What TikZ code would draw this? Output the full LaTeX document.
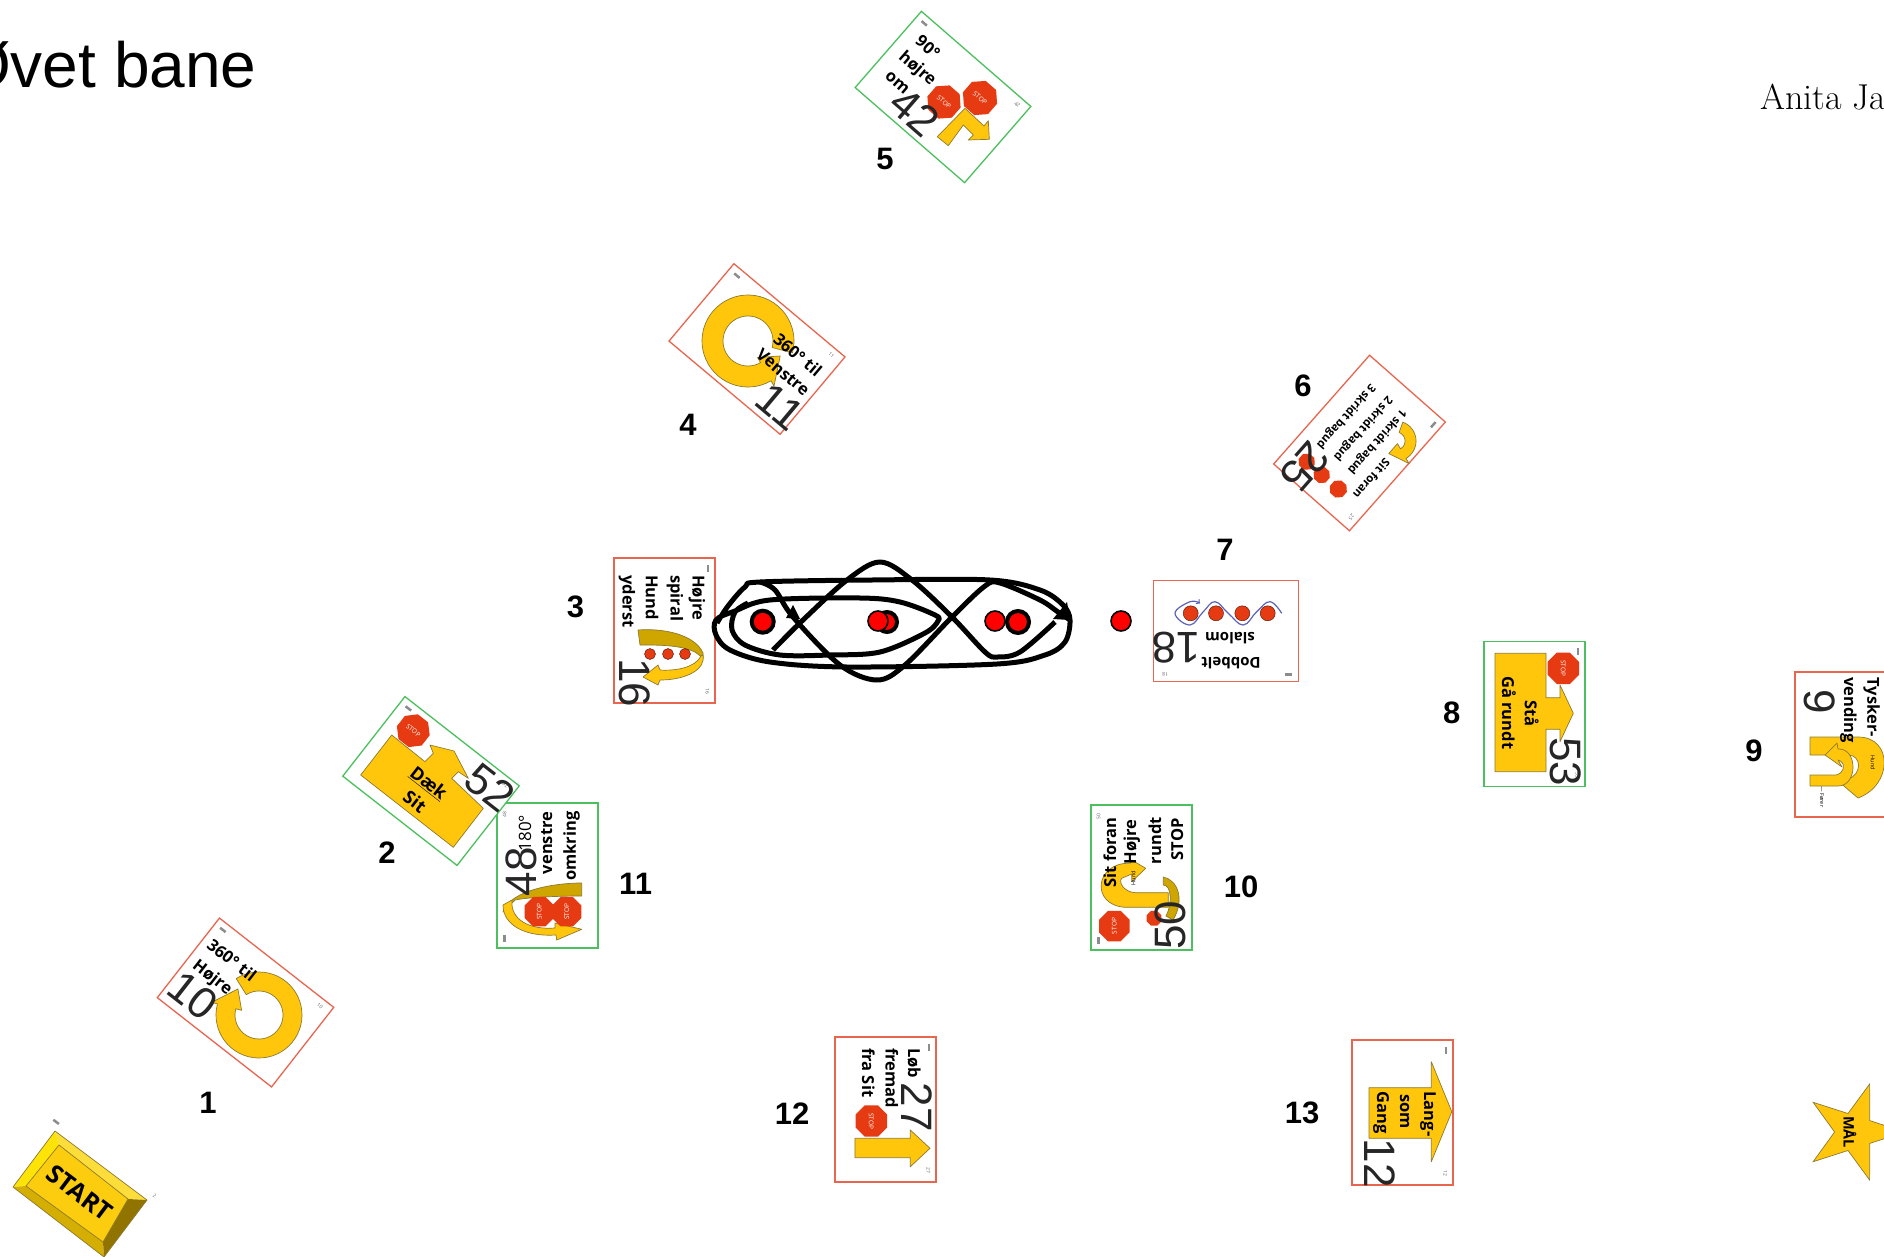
\documentclass[tikz,border=0pt]{standalone}
\usepackage{fontspec}
\usetikzlibrary{shapes.geometric}
\newfontfamily\arialfont{Liberation Sans}
\newfontfamily\cardfont{Open Sans}
\definecolor{cardred}{HTML}{E8664F}
\definecolor{cardgreen}{HTML}{4CBF5E}
\definecolor{signyellow}{HTML}{FFC60B}
\definecolor{signdark}{HTML}{CFA500}
\definecolor{signedge}{HTML}{8C7A30}
\definecolor{stopred}{HTML}{E63A12}
\definecolor{waveblue}{HTML}{5B62B8}
\tikzset{
  ralcard/.style={draw, line width=1.3pt, fill=white, minimum width=145pt, minimum height=101pt, inner sep=0pt},
  cardtxt/.style={font={\cardfont\bfseries\fontsize{16.5}{18}\selectfont}, inner sep=0pt},
  smalltxt/.style={font={\cardfont\bfseries\fontsize{15}{17}\selectfont}, inner sep=0pt},
  bignum/.style={font={\arialfont\fontsize{44}{44}\selectfont}, text=black!85, inner sep=0pt},
  lbl/.style={font={\arialfont\bfseries\fontsize{31}{31}\selectfont}, inner sep=0pt},
  tinynum/.style={font={\cardfont\fontsize{5}{5}\selectfont}, text=black!60, inner sep=0pt, transform shape},
  tinytxt/.style={font={\cardfont\fontsize{5.5}{6}\selectfont}, inner sep=0pt},
  stopsign/.style={regular polygon, regular polygon sides=8, fill=stopred, text=white, inner sep=0pt, font={\cardfont\fontsize{6.5}{7}\selectfont}},
  icon/.style={draw=signedge, line width=.7pt, fill=signyellow, line join=round},
  band/.style={draw=signedge, line width=.7pt, fill=signdark, line join=round},
  reddot/.style={circle, fill=stopred, draw=black!70!stopred, line width=.4pt, minimum size=15pt, inner sep=0pt},
  trackline/.style={draw=black, line width=5pt, line join=round},
  bluedot/.style={circle, fill=red, draw=black, line width=1.6pt, minimum size=20pt, inner sep=0pt},
  bluedotheavy/.style={circle, fill=red, draw=black, line width=4pt, minimum size=22pt, inner sep=0pt}
}
% card with its small corner marks
\newcommand{\sign}[6]{
  \node[ralcard, draw=#5, rotate=#4] (#1) at (#2,#3) {};
  \begin{scope}[shift={(#2,#3)}, rotate=#4]
    \fill[black!45] (-66,-44.5) rectangle (-59,-42);
    \node[tinynum] (#1num) at (61,-43) {#6};
  \end{scope}
}
% ring arrow: centre, outer and inner radius, start, end, tip angle
\newcommand{\ringarrow}[7]{
  \draw[icon] plot[domain=#5:#6,samples=50] ({#1+#3*cos(\x)},{#2+#3*sin(\x)})
    -- ({#1+(#3+6)*cos(#6)},{#2+(#3+6)*sin(#6)})
    -- ({#1+0.5*(#3+#4)*cos(#7)},{#2+0.5*(#3+#4)*sin(#7)})
    -- ({#1+(#4-6)*cos(#6)},{#2+(#4-6)*sin(#6)})
    -- plot[domain=#6:#5,samples=50] ({#1+#4*cos(\x)},{#2+#4*sin(\x)}) -- cycle;
}
\begin{document}
\begin{tikzpicture}[x=1pt,y=-1pt]
\useasboundingbox (0,0) rectangle (1884,1257);
\clip (0,0) rectangle (1884,1257);

\node[anchor=base west, inner sep=0pt, font={\arialfont\fontsize{64}{64}\selectfont}] (title) at (-39,88) {Øvet bane};
\node[anchor=base west, inner sep=0pt, font={\fontsize{36}{36}\selectfont}] (author) at (1760,110) {Anita Ja};

% start
\sign{start}{80}{1194}{-37}{white}{2}
\fill[yellow!40!signyellow!80!white] (55,1131) -- (147,1200) -- (128,1199) -- (59,1145) -- cycle;
\fill[yellow!70!signyellow] (55,1131) -- (59,1145) -- (26,1186) -- (13,1187) -- cycle;
\fill[signdark!90!yellow] (13,1187) -- (26,1186) -- (103,1242) -- (104,1257) -- cycle;
\fill[signdark!70!black] (147,1200) -- (104,1257) -- (103,1242) -- (128,1199) -- cycle;
\fill[yellow!20!signyellow] (59,1145) -- (128,1199) -- (103,1242) -- (26,1186) -- cycle;
\draw[signedge, line width=.7pt] (55,1131) -- (147,1200) -- (104,1257) -- (13,1187) -- cycle (59,1145) -- (128,1199) -- (103,1242) -- (26,1186) -- cycle;
\node[rotate=-37, inner sep=0pt, font={\cardfont\bfseries\fontsize{25}{25}\selectfont}] (starttxt) at (80,1193) {START};

% card 1
\sign{card1}{245.5}{1002.5}{-38}{cardred}{10}
\ringarrow{259}{1015}{43}{24}{238}{555}{591}
\node[cardtxt, rotate=-38] (t1a) at (232,960) {360° til};
\node[cardtxt, rotate=-38] (t1b) at (212,978) {Højre};
\node[bignum, rotate=-38] (n1) at (193,996) {10};

% card 11
\sign{card11}{547.5}{875.5}{90}{cardgreen}{48}
\draw[band] (581.7,883) .. controls (555,883) and (510,890) .. (503,912) -- (515,900) .. controls (530,897) and (560,896) .. (581.7,896) -- cycle;
\draw[icon] (503,905) .. controls (503,925) and (525,937) .. (556,935) -- (556.7,940) -- (581.7,929.3) -- (555,923) -- (555,928) .. controls (530,930) and (510,920) .. (512,900) -- cycle;
\node[stopsign, minimum size=32pt, rotate=90] (s11a) at (539.3,911.7) {STOP};
\node[stopsign, minimum size=32pt, rotate=90] (s11b) at (566.7,911.7) {STOP};
\node[cardtxt, rotate=90, font={\cardfont\fontsize{17}{18}\selectfont}] (t11a) at (525,833) {180°};
\node[cardtxt, rotate=90] (t11b) at (546.7,843) {venstre};
\node[cardtxt, rotate=90] (t11c) at (571.7,846) {omkring};
\node[bignum, rotate=90] (n11) at (521.7,871.7) {48};

% card 2
\sign{card2}{431}{781}{-38}{cardgreen}{52}
\draw[icon] (391.7,735) -- (425,761.7) -- (433.3,753.3) -- (430,745) -- (454,751) -- (468.3,778.3) -- (458.3,771.7) -- (451.7,778.3) -- (483.3,808.3) -- (453.3,847.3) -- (360.7,775) -- cycle;
\node[stopsign, minimum size=34pt, rotate=-38] (s2) at (413.3,730.7) {STOP};
\node[cardtxt, rotate=-38, font={\cardfont\bfseries\fontsize{18}{19}\selectfont}] (t2a) at (428.3,783.3) {\underline{Dæk}};
\node[cardtxt, rotate=-38, font={\cardfont\bfseries\fontsize{18}{19}\selectfont}] (t2b) at (415,801.7) {Sit};
\node[bignum, rotate=-38] (n2) at (490,788) {52};

% card 3
\sign{card3}{664.5}{630.5}{-90}{cardred}{16}
\draw[band] (638,630) .. controls (665,628) and (695,635) .. (703,653) -- (703,658) -- (695,652) .. controls (680,645) and (660,645) .. (640,645) -- cycle;
\draw[icon] (703,655) .. controls (706,670) and (685,680) .. (660,680) -- (658,685) -- (643,677) -- (658,665) -- (660,670) .. controls (675,671) and (695,668) .. (701,656) -- cycle;
\node[reddot, minimum size=11pt] (d3a) at (650,654) {};
\node[reddot, minimum size=11pt] (d3b) at (668,654) {};
\node[reddot, minimum size=11pt] (d3c) at (685,654) {};
\node[cardtxt, rotate=-90, anchor=west] (t3a) at (697,575) {Højre};
\node[cardtxt, rotate=-90, anchor=west] (t3b) at (675,575) {spiral};
\node[cardtxt, rotate=-90, anchor=west] (t3c) at (652,575) {Hund};
\node[cardtxt, rotate=-90, anchor=west] (t3d) at (627,575) {yderst};
\node[bignum, rotate=-90] (n3) at (635,683) {16};

% card 4
\sign{card4}{757}{349}{-40}{cardred}{11}
\ringarrow{748}{341}{46}{25}{15}{-300}{-335}
\node[cardtxt, rotate=-40] (t4a) at (798,355) {360° til};
\node[cardtxt, rotate=-40] (t4b) at (783,372) {Venstre};
\node[bignum, rotate=-40] (n4) at (780,407) {11};

% card 5
\sign{card5}{943}{97}{-41}{cardgreen}{42}
\node[stopsign, minimum size=35pt, rotate=-41] (s5a) at (944,102) {STOP};
\node[stopsign, minimum size=36pt, rotate=-41] (s5b) at (980,98) {STOP};
\draw[icon] (937.3,136.7) -- (965,108.3) -- (984,126) -- (988.3,120.7) -- (989.3,139.3) -- (968.3,140) -- (973.3,135) -- (963.3,125) -- (948.3,145.7) -- cycle;
\node[cardtxt, rotate=-41] (t5a) at (928,47) {90°};
\node[cardtxt, rotate=-41] (t5b) at (917,69) {højre};
\node[cardtxt, rotate=-41] (t5c) at (897,83) {om};
\node[bignum, rotate=-41] (n5) at (915,112) {42};

% card 6
\sign{card6}{1359.5}{443}{-131.4}{cardred}{25}
\ringarrow{1396}{441}{20}{9}{-70}{60}{120}
\node[stopsign, minimum size=17pt, rotate=-131.4] (s6a) at (1306.7,461.7) {};
\node[stopsign, minimum size=17pt, rotate=-131.4] (s6b) at (1321.7,475) {};
\node[stopsign, minimum size=18pt, rotate=-131.4] (s6c) at (1338.3,489) {};
\node[cardtxt, rotate=-131.4, font={\cardfont\bfseries\fontsize{11.5}{12}\selectfont}] (t6a) at (1345.7,416) {3 skridt bagud};
\node[cardtxt, rotate=-131.4, font={\cardfont\bfseries\fontsize{11.5}{12}\selectfont}] (t6b) at (1362.7,428.3) {2 skridt bagud};
\node[cardtxt, rotate=-131.4, font={\cardfont\bfseries\fontsize{11.5}{12}\selectfont}] (t6c) at (1376.7,441.7) {1 skridt bagud};
\node[cardtxt, rotate=-131.4, font={\cardfont\bfseries\fontsize{11.5}{12}\selectfont}] (t6d) at (1371.7,479) {Sit foran};
\node[bignum, rotate=-131.4] (n6) at (1305,466.7) {25};

% card 7
\sign{card7}{1226}{631}{180}{cardred}{18}
\draw[->, waveblue, line width=1.2pt] plot[smooth, tension=.7] coordinates {(1281.7,613.3) (1270,601.7) (1256.7,611.7) (1243.3,625) (1228.3,613.3) (1215,601.7) (1203.3,611.7) (1190,625) (1175,613.3) (1190,601.7) (1200,603.3)};
\node[reddot] (d7a) at (1190.7,613.3) {};
\node[reddot] (d7b) at (1216,613.3) {};
\node[reddot] (d7c) at (1242.3,613.3) {};
\node[reddot] (d7d) at (1267.7,613.3) {};
\node[smalltxt, rotate=180] (t7a) at (1231,662.7) {Dobbelt};
\node[smalltxt, rotate=180] (t7b) at (1230,638.3) {slalom};
\node[bignum, rotate=180] (n7) at (1176,647.3) {18};

% card 8
\sign{card8}{1534.5}{714}{-90}{cardgreen}{53}
\draw[icon] (1495,653.3) -- (1546,653.3) -- (1546,697.7) -- (1560,697.7) -- (1560,685) -- (1573.3,713.3) -- (1560,741.7) -- (1560,729.3) -- (1546,729.3) -- (1546,771.7) -- (1495,771.7) -- cycle;
\node[stopsign, minimum size=34pt, rotate=-90] (s8) at (1563.3,668.3) {STOP};
\node[cardtxt, rotate=-90] (t8a) at (1531.7,713.3) {Stå};
\node[cardtxt, rotate=-90] (t8b) at (1509,712.7) {Gå rundt};
\node[bignum, rotate=-90] (n8) at (1566,761.7) {53};

% card 9
\sign{card9}{1845.5}{744.5}{-90}{cardred}{9}
\draw[icon] (1810,737) -- (1858,737) .. controls (1893,737) and (1893,785) .. (1858,798) -- (1838,781) -- (1848,779) .. controls (1862,775) and (1862,755) .. (1848,755) -- (1810,755) -- cycle;
\draw[icon] (1810,775) -- (1836,775) .. controls (1845,773) and (1846,762) .. (1838,760) -- (1842,767) -- (1825,755) -- (1837,743) -- (1838,749) .. controls (1858,748) and (1858,786) .. (1838,786) -- (1810,786) -- cycle;
\node[cardtxt, rotate=-90] (t9a) at (1871.7,707.3) {Tysker-};
\node[cardtxt, rotate=-90] (t9b) at (1848.3,710) {vending};
\node[bignum, rotate=-90] (n9) at (1820,701.7) {9};
\node[tinytxt, rotate=-90] (t9c) at (1873,763) {Hund};
\node[tinytxt, rotate=-90] (t9d) at (1822,797) {— Fører};

% card 10
\sign{card10}{1141.5}{877.5}{90}{cardgreen}{50}
\draw[band] (1163.3,877) .. controls (1178,880) and (1185,900) .. (1173,920) -- (1166,916) .. controls (1172,905) and (1172,885) .. (1163.3,885) -- cycle;
\draw[icon] (1168.3,892.7) -- (1135,892.7) .. controls (1124,892) and (1118,882) .. (1121.7,878.3) -- (1131.7,874) -- (1131.7,881.7) -- (1145.7,868.3) -- (1131.7,860) -- (1130,863.3) .. controls (1095,862) and (1090,905) .. (1125,907.3) -- (1168.3,907.3) -- cycle;
\node[stopsign, minimum size=33pt, rotate=90] (s10a) at (1114.3,926) {STOP};
\node[stopsign, minimum size=16pt, rotate=90] (s10b) at (1154,918.3) {};
\node[cardtxt, rotate=90] (t10a) at (1110,852.3) {Sit foran};
\node[cardtxt, rotate=90] (t10b) at (1131.7,841.7) {Højre};
\node[cardtxt, rotate=90] (t10c) at (1155,840.7) {rundt};
\node[cardtxt, rotate=90] (t10d) at (1177.3,839.3) {STOP};
\node[tinytxt, rotate=90] (t10e) at (1133.3,878.3) {Hund};
\node[bignum, rotate=90] (n10) at (1170.7,925) {50};

% card 12
\sign{card12}{885.5}{1109.5}{-90}{cardred}{27}
\draw[icon] (854.9,1138.3) -- (910.3,1138.3) -- (910.3,1130) -- (930,1148.3) -- (910.3,1166.7) -- (910.3,1157.7) -- (854.9,1157.7) -- cycle;
\node[stopsign, minimum size=34pt, rotate=-90] (s12) at (871.3,1121) {STOP};
\node[cardtxt, rotate=-90, anchor=west] (t12a) at (914,1048) {Løb};
\node[cardtxt, rotate=-90, anchor=west] (t12b) at (891.8,1048) {fremad};
\node[cardtxt, rotate=-90, anchor=west] (t12c) at (868.4,1048) {fra Sit};
\node[bignum, rotate=-90] (n12) at (916.4,1107) {27};

% card 13
\sign{card13}{1402.5}{1112.5}{-90}{cardred}{12}
\draw[icon] (1369,1087.7) -- (1431.3,1087.7) -- (1431.3,1061.7) -- (1451.8,1111.7) -- (1431.3,1161.7) -- (1431.3,1138.3) -- (1369,1138.3) -- cycle;
\node[cardtxt, rotate=-90] (t13a) at (1428,1114) {Lang-};
\node[cardtxt, rotate=-90] (t13b) at (1404.6,1111.7) {som};
\node[cardtxt, rotate=-90] (t13c) at (1381,1112.7) {Gang};
\node[bignum, rotate=-90] (n13) at (1380,1163.3) {12};

% goal
\node[star, star points=5, star point ratio=2.6, draw=signedge, line width=.7pt, fill=signyellow, minimum size=101pt, inner sep=0pt, rotate=-90] (maal) at (1854,1132) {};
\node[rotate=-90, inner sep=0pt, font={\cardfont\bfseries\fontsize{14.5}{15}\selectfont}] (maaltxt) at (1850,1132) {MÅL};

% track
\draw[trackline] plot[smooth, tension=.55] coordinates {(717,623) (728,606) (745,587) (760,582) (872,580) (990,580) (1040,590) (1063,605) (1070,620) (1065,642) (1045,655) (997,664) (847,667) (770,662) (730,650) (716,635) (716,620) (735,611) (770,600) (860,598) (900,602) (935,615) (938,621) (925,633) (880,652) (830,655) (780,655) (745,645) (732,630) (735,612) (748,603)};
\draw[trackline] plot[smooth, tension=.55] coordinates {(760,582) (775,590) (793,617) (840,665) (877,680) (905,665) (952,617) (985,586) (1000,583) (1040,600) (1058,612) (1070,620)};
\draw[trackline] plot[smooth, tension=.55] coordinates {(773,650) (803,620) (847,580) (880,562) (912,580) (952,617) (985,652) (997,657) (1020,652) (1055,622)};
\fill[black] (793,605) -- (800,619) -- (786,618) -- cycle;
\fill[black] (1067,602) -- (1070,620) -- (1053,619) -- cycle;
\node[bluedotheavy] (p1) at (762.7,621.7) {};
\node[bluedotheavy, minimum size=20pt] (p3) at (887,622) {};
\node[bluedot] (p2) at (878,621) {};
\node[bluedot] (p4) at (995,621) {};
\node[bluedotheavy] (p5) at (1018,622) {};
\node[bluedot] (p6) at (1121,621) {};

% order numbers
\node[lbl] (l1) at (208,1103) {1};
\node[lbl] (l2) at (387,853) {2};
\node[lbl] (l3) at (575.5,607) {3};
\node[lbl] (l4) at (688,425) {4};
\node[lbl] (l5) at (885,158.6) {5};
\node[lbl] (l6) at (1303,386) {6};
\node[lbl] (l7) at (1225,550) {7};
\node[lbl] (l8) at (1451.7,713) {8};
\node[lbl] (l9) at (1754,751) {9};
\node[lbl] (l10) at (1241,886.7) {10};
\node[lbl] (l11) at (635.6,884) {11};
\node[lbl] (l12) at (792,1114) {12};
\node[lbl] (l13) at (1302,1112.6) {13};
\end{tikzpicture}
\end{document}
